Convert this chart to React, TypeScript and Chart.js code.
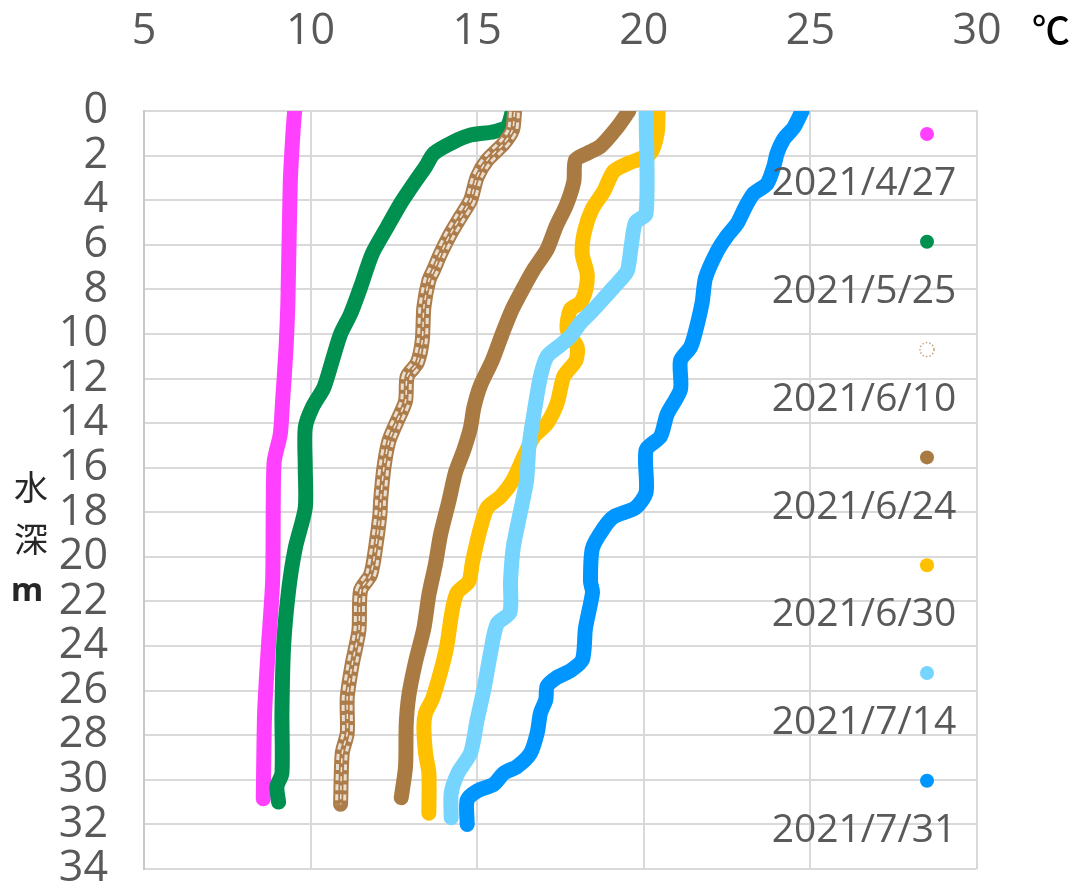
import React, { useEffect, useRef } from "react";
import { Chart, registerables } from "chart.js";

Chart.register(...registerables);

// ---- Data ----
const seriesLabels = ["2021/4/27", "2021/5/25", "2021/6/10", "2021/6/24", "2021/6/30", "2021/7/14", "2021/7/31"];
const seriesColors = ["#FF40FF", "#00904F", "#AC7C4A", "#A97B43", "#FFC000", "#75D5FF", "#0096FF"];

const xTickValues = [5, 10, 15, 20, 25, 30];
const yTickValues = [0, 2, 4, 6, 8, 10, 12, 14, 16, 18, 20, 22, 24, 26, 28, 30, 32, 34];

const depth0427 = [0, 1.0, 3.2, 8.5, 10.7, 13.0, 14.5, 15.7, 17.5, 21.1, 24.1, 27.0, 30.85];
const temp0427 = [9.52, 9.47, 9.39, 9.32, 9.26, 9.16, 9.09, 8.91, 8.88, 8.86, 8.73, 8.62, 8.58];

const depth0525 = [0, 0.7, 0.93, 1.08, 1.38, 1.9, 2.5, 3.25, 4.15, 5.2, 6.4, 7.9, 9.1, 10.0, 11.2, 12.4, 13.3, 14.2, 16.0, 17.8, 19.6, 21.5, 24.0, 27.0, 29.7, 30.3, 31.0];
const temp0525 = [16.06, 15.9, 15.5, 14.8, 14.3, 13.7, 13.45, 13.1, 12.7, 12.3, 11.85, 11.5, 11.2, 10.9, 10.65, 10.4, 10.05, 9.84, 9.84, 9.84, 9.54, 9.34, 9.19, 9.14, 9.14, 8.99, 9.04];

const depth0610 = [0.05, 0.85, 1.45, 2.2, 2.95, 4.0, 4.75, 5.5, 6.4, 7.1, 7.6, 8.8, 10.3, 11.3, 11.9, 13.0, 13.9, 14.8, 16.0, 17.5, 18.1, 19.6, 20.8, 21.5, 23.3, 24.8, 26.3, 27.9, 28.8, 31.1];
const temp0610 = [16.12, 16.06, 15.8, 15.3, 15.0, 14.8, 14.5, 14.2, 13.9, 13.7, 13.55, 13.4, 13.35, 13.2, 12.9, 12.85, 12.6, 12.35, 12.2, 12.1, 12.08, 11.95, 11.8, 11.5, 11.45, 11.25, 11.1, 11.1, 10.95, 10.9];

const depth0624 = [0, 0.74, 1.58, 1.9, 2.2, 3.16, 4.2, 5.2, 6.2, 7.1, 7.9, 8.9, 10.0, 11.2, 12.3, 13.3, 14.2, 15.2, 16.2, 17.5, 19.0, 20.3, 21.7, 23.2, 24.7, 26.2, 27.5, 29.4, 30.8];
const temp0624 = [19.55, 19.2, 18.7, 18.3, 17.95, 17.9, 17.68, 17.36, 17.1, 16.7, 16.4, 16.05, 15.75, 15.45, 15.1, 14.9, 14.8, 14.6, 14.35, 14.15, 13.9, 13.75, 13.55, 13.4, 13.15, 12.95, 12.87, 12.85, 12.72];

const depth0630 = [0, 1.0, 1.9, 2.2, 2.3, 2.7, 3.6, 4.4, 5.4, 6.4, 7.3, 8.0, 8.6, 8.9, 9.8, 10.6, 11.2, 11.9, 13.1, 14.0, 14.6, 15.5, 16.6, 17.3, 17.8, 18.7, 19.6, 20.3, 21.1, 21.6, 22.4, 23.9, 24.6, 25.7, 26.4, 27.0, 27.6, 28.8, 29.7, 31.5];
const temp0630 = [20.43, 20.4, 20.2, 19.8, 19.6, 19.1, 18.8, 18.45, 18.22, 18.15, 18.3, 18.26, 18.1, 17.8, 17.7, 18.0, 17.96, 17.6, 17.4, 17.1, 16.7, 16.4, 16.06, 15.7, 15.3, 15.1, 14.95, 14.85, 14.75, 14.4, 14.25, 14.1, 14.0, 13.8, 13.65, 13.45, 13.4, 13.45, 13.55, 13.55];

const depth0714 = [0, 4.6, 5.0, 6.1, 7.1, 7.4, 7.9, 8.4, 9.05, 9.5, 10.1, 10.5, 11.0, 11.9, 13.6, 15.1, 16.6, 18.1, 19.6, 21.1, 22.5, 23.0, 24.3, 25.8, 27.3, 28.8, 29.7, 30.6, 31.7];
const temp0714 = [20.07, 20.07, 19.75, 19.62, 19.52, 19.4, 19.1, 18.8, 18.4, 18.1, 17.8, 17.5, 17.1, 16.9, 16.7, 16.55, 16.48, 16.28, 16.08, 16.0, 15.98, 15.6, 15.4, 15.22, 15.0, 14.8, 14.42, 14.22, 14.22];

const depth0731 = [0, 0.74, 1.26, 1.9, 2.5, 3.26, 3.7, 4.3, 5.05, 5.6, 6.3, 7.5, 8.6, 9.9, 10.6, 11.2, 12.5, 13.6, 14.6, 15.2, 17.1, 17.8, 18.2, 18.7, 19.6, 21.1, 21.6, 23.2, 24.6, 25.1, 25.4, 25.8, 26.4, 27.0, 27.9, 28.8, 29.4, 29.7, 30.2, 30.5, 30.9, 32.0];
const temp0731 = [24.75, 24.5, 24.2, 24.0, 23.9, 23.7, 23.3, 23.05, 22.8, 22.5, 22.2, 21.85, 21.75, 21.55, 21.4, 21.1, 21.1, 20.7, 20.5, 20.07, 20.07, 19.75, 19.1, 18.8, 18.46, 18.4, 18.46, 18.25, 18.16, 17.8, 17.4, 17.1, 17.06, 16.9, 16.8, 16.6, 16.2, 15.8, 15.5, 15.0, 14.7, 14.7];

const seriesTemps = [temp0427, temp0525, temp0610, temp0624, temp0630, temp0714, temp0731];
const seriesDepths = [depth0427, depth0525, depth0610, depth0624, depth0630, depth0714, depth0731];

const toPoints = (t: number[], d: number[]) => t.map((x, i) => ({ x, y: d[i] }));

const TICK_FONT = '"Open Sans", "Noto Sans", sans-serif';

const overlayPlugin = {
  id: "overlayText",
  afterDraw(chart: any) {
    const ctx = chart.ctx;
    ctx.save();
    // y-axis title, stacked
    ctx.fillStyle = "#262626";
    ctx.textAlign = "center";
    ctx.textBaseline = "middle";
    ctx.font = '34px "Noto Sans CJK JP"';
    ctx.fillText("水", 31, 487);
    ctx.fillText("深", 31, 539);
    ctx.font = 'bold 33px "Noto Sans", sans-serif';
    ctx.fillText("m", 27, 592);
    // unit
    ctx.font = '500 38px "Noto Sans CJK JP", sans-serif';
    ctx.fillStyle = "#000";
    ctx.fillText("℃", 1051, 30);

    // legend
    const mx = 927;
    const lx = 864;
    const step = 107.8;
    for (let i = 0; i < seriesLabels.length; i++) {
      const my = 134 + i * step;
      const ly = 184 + i * step;
      ctx.beginPath();
      ctx.arc(mx, my, 7, 0, Math.PI * 2);
      if (i === 2) {
        ctx.setLineDash([1.5, 2]);
        ctx.lineWidth = 1.5;
        ctx.strokeStyle = "#C9A37E";
        ctx.stroke();
        ctx.setLineDash([]);
      } else {
        ctx.fillStyle = seriesColors[i];
        ctx.fill();
      }
      ctx.fillStyle = "#595959";
      ctx.font = `39px ${TICK_FONT}`;
      ctx.textAlign = "center";
      ctx.textBaseline = "middle";
      ctx.fillText(seriesLabels[i], lx, ly);
    }
    ctx.restore();
  },
};

export default function App() {
  const ref = useRef<HTMLCanvasElement | null>(null);

  useEffect(() => {
    if (!ref.current) return;
    const datasets: any[] = [];
    const n = seriesLabels.length;
    for (let i = 0; i < n; i++) {
      const data = toPoints(seriesTemps[i], seriesDepths[i]);
      const base = {
        label: seriesLabels[i],
        data,
        showLine: true,
        borderColor: seriesColors[i],
        backgroundColor: seriesColors[i],
        borderWidth: 15,
        borderCapStyle: "round",
        borderJoinStyle: "round",
        pointRadius: 0,
        pointHoverRadius: 0,
        tension: 0.25,
        order: 100 - i * 10,
      };
      datasets.push(base);
      if (i === 2) {
        datasets.push({
          ...base,
          label: "_o1",
          borderColor: "rgba(255,255,255,0.75)",
          borderWidth: 11,
          borderDash: [6, 4],
          borderCapStyle: "butt",
          order: 100 - i * 10 - 1,
        });
        datasets.push({
          ...base,
          label: "_o2",
          borderColor: "#AC7C4A",
          borderWidth: 5,
          borderCapStyle: "butt",
          order: 100 - i * 10 - 2,
        });
        datasets.push({
          ...base,
          label: "_o3",
          borderColor: "rgba(255,255,255,0.8)",
          borderWidth: 1.5,
          borderDash: [5, 4],
          borderCapStyle: "butt",
          order: 100 - i * 10 - 3,
        });
      }
    }

    const chart = new Chart(ref.current, {
      type: "scatter",
      data: { datasets },
      options: {
        animation: false,
        responsive: false,
        maintainAspectRatio: false,
        layout: { padding: { left: 0, top: 0, right: 102, bottom: 25 } },
        plugins: {
          legend: { display: false },
          tooltip: { enabled: false },
        },
        scales: {
          x: {
            type: "linear",
            position: "top",
            min: 5,
            max: 30,
            afterBuildTicks: (scale: any) => {
              scale.ticks = xTickValues.map((v) => ({ value: v }));
            },
            afterFit: (scale: any) => {
              scale.height = 111;
              scale.paddingLeft = 0;
              scale.paddingRight = 0;
            },
            ticks: {
              autoSkip: false,
              maxRotation: 0,
              color: "#595959",
              font: { family: TICK_FONT, size: 43 },
              padding: 53,
            },
            grid: { color: "#D9D9D9", lineWidth: 2, drawTicks: false },
            border: { color: "#D9D9D9", width: 2 },
          },
          y: {
            type: "linear",
            reverse: true,
            min: 0,
            max: 34,
            afterBuildTicks: (scale: any) => {
              scale.ticks = yTickValues.map((v) => ({ value: v }));
            },
            afterFit: (scale: any) => {
              scale.width = 144;
              scale.paddingTop = 0;
              scale.paddingBottom = 0;
            },
            ticks: {
              autoSkip: false,
              color: "#595959",
              font: { family: TICK_FONT, size: 43 },
              padding: 36,
            },
            grid: { color: "#D9D9D9", lineWidth: 2, drawTicks: false },
            border: { color: "#C8C8C8", width: 2 },
          },
        },
      },
      plugins: [overlayPlugin],
    } as any);
    return () => chart.destroy();
  }, []);

  return (
    <div style={{ position: "fixed", left: 0, top: 0, width: 1079, height: 894, background: "#fff" }}>
      <canvas ref={ref} width={1079} height={894} style={{ width: 1079, height: 894 }} />
    </div>
  );
}
